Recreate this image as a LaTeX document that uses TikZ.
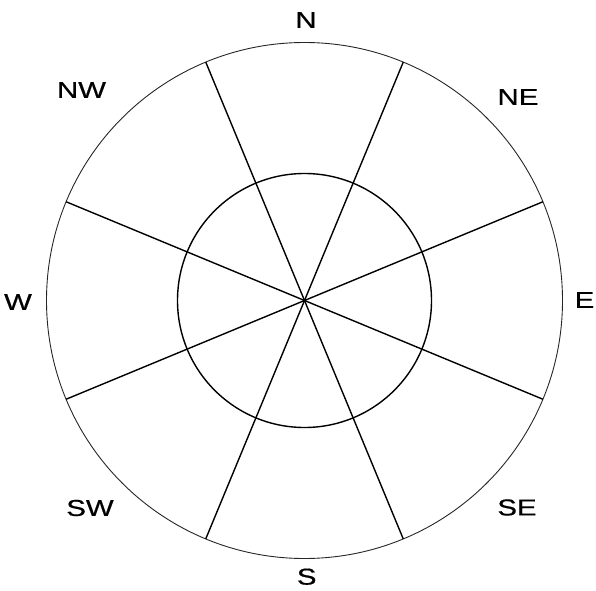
\documentclass[tikz,border=0pt]{standalone}
\usepackage{fontspec}
\setmainfont{Liberation Sans}[FakeStretch=1.28,FakeBold=0.6]
\usetikzlibrary{calc}
\begin{document}
\begin{tikzpicture}[x=1pt,y=1pt,
  outerring/.style={draw=black!85,line width=0.9pt},
  innerring/.style={draw=black,line width=1.4pt},
  spoke/.style={draw=black,line width=1.4pt},
  compass/.style={inner sep=0pt,font=\fontsize{23}{25}\selectfont}]
\useasboundingbox (0,0) rectangle (596,590);
\coordinate (c) at (304.5,289.5);
\foreach \i/\a in {1/22.5,2/67.5,3/112.5,4/157.5,5/202.5,6/247.5,7/292.5,8/337.5}
  \coordinate (p\i) at ($(c)+(\a:258)$);
\draw[outerring] (c) circle (258);
\draw[innerring] (c) circle (127);
\draw[spoke] (p1) -- (p5);
\draw[spoke] (p2) -- (p6);
\draw[spoke] (p3) -- (p7);
\draw[spoke] (p4) -- (p8);
\node[compass] (n) at (306,570) {N};
\node[compass] (ne) at (518,493) {NE};
\node[compass] (e) at (584.5,290) {E};
\node[compass] (se) at (517,82.5) {SE};
\node[compass] (s) at (306.7,13.3) {S};
\node[compass] (sw) at (90,82) {SW};
\node[compass] (w) at (18,288) {W};
\node[compass] (nw) at (81.5,500) {NW};
\end{tikzpicture}
\end{document}
